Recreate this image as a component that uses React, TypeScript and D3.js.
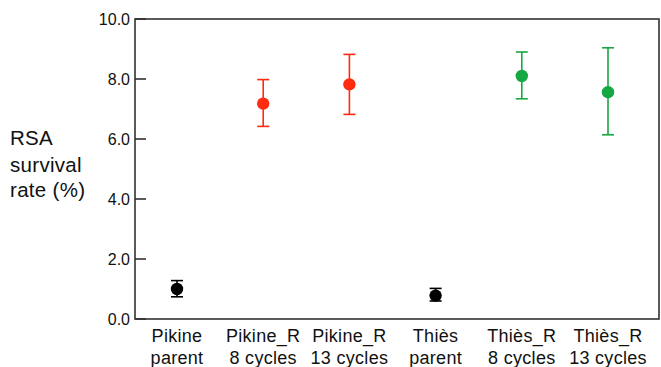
import React from 'react';
import * as d3 from 'd3';

// groups along x, two lines each
const groups = ['Pikine parent', 'Pikine_R 8', 'Pikine_R 13', 'Thies parent', 'Thies_R 8', 'Thies_R 13'];
const labelTop = ['Pikine', 'Pikine_R', 'Pikine_R', 'Thiès', 'Thiès_R', 'Thiès_R'];
const labelBottom = ['parent', '8 cycles', '13 cycles', 'parent', '8 cycles', '13 cycles'];

const means = [1.0, 7.18, 7.82, 0.78, 8.1, 7.56];
const lows = [0.74, 6.42, 6.82, 0.6, 7.34, 6.14];
const highs = [1.28, 7.98, 8.82, 1.02, 8.9, 9.04];
const colours = ['#000000', '#ff2b10', '#ff2b10', '#000000', '#16a843', '#16a843'];

const yTicks = [0, 2, 4, 6, 8, 10];

const W = 661;
const H = 367;
const left = 135;
const right = 659;
const top = 19;
const bottom = 319;

export default function App() {
  const x = d3.scalePoint<string>().domain(groups).range([177, 608]);
  const y = d3.scaleLinear().domain([0, 10]).range([bottom, top]);
  const font = 'Liberation Sans, Arial, Helvetica, sans-serif';

  return (
    <svg width={W} height={H} style={{ position: 'absolute', left: 0, top: 0 }} fontFamily={font}>
      <rect x={0} y={0} width={W} height={H} fill="#fff" />
      {/* frame */}
      <rect x={left} y={top} width={right - left} height={bottom - top} fill="none" stroke="#333" strokeWidth={1.6} />
      {yTicks.map(t => (
        <g key={t}>
          <line x1={left} x2={left + 11} y1={y(t)} y2={y(t)} stroke="#333" strokeWidth={1.6} />
          <text x={left - 5} y={y(t) + 6} textAnchor="end" fontSize={16} fill="#111">{d3.format('.1f')(t)}</text>
        </g>
      ))}
      {/* y title */}
      <g fontSize={20.5} fill="#111" letterSpacing={0.3}>
        <text x={10} y={145}>RSA</text>
        <text x={10} y={171.5}>survival</text>
        <text x={10} y={197}>rate (%)</text>
      </g>
      {/* x labels */}
      {groups.map((g, i) => (
        <g key={g} fontSize={18} fill="#111" textAnchor="middle" letterSpacing={0.3}>
          <text x={x(g)} y={342}>{labelTop[i]}</text>
          <text x={x(g)} y={364}>{labelBottom[i]}</text>
        </g>
      ))}
      {/* error bars and points */}
      {groups.map((g, i) => {
        const cx = x(g) as number;
        return (
          <g key={g} stroke={colours[i]} strokeWidth={1.6}>
            <line x1={cx} x2={cx} y1={y(lows[i])} y2={y(highs[i])} />
            <line x1={cx - 6} x2={cx + 6} y1={y(lows[i])} y2={y(lows[i])} />
            <line x1={cx - 6} x2={cx + 6} y1={y(highs[i])} y2={y(highs[i])} />
            <circle cx={cx} cy={y(means[i])} r={6.2} fill={colours[i]} stroke="none" />
          </g>
        );
      })}
    </svg>
  );
}
